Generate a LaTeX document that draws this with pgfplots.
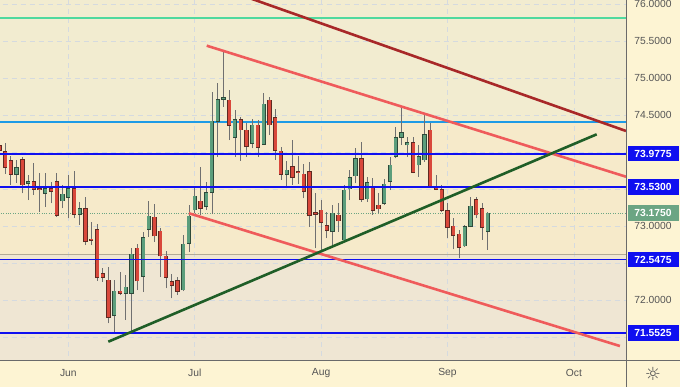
\documentclass[border=0pt]{standalone}
\usepackage{pgfplots}
\usepackage{pgfplotstable}
\pgfplotsset{compat=1.18}
\usepackage{fontspec}
\setmainfont{Liberation Sans}
\newfontfamily\djv{DejaVu Sans}
\definecolor{topc}{HTML}{F2ECD0}
\definecolor{midc}{HTML}{F6EACA}
\definecolor{lowc}{HTML}{EFE6D3}
\definecolor{panelc}{HTML}{FDF4D3}
\definecolor{gridc}{HTML}{D5DADF}
\definecolor{labc}{HTML}{555555}
\definecolor{upfill}{HTML}{5C9E7C}
\definecolor{upedge}{HTML}{2E4A3A}
\definecolor{dnfill}{HTML}{D9483B}
\definecolor{dnedge}{HTML}{5E2A22}
\definecolor{wickc}{HTML}{707070}
\definecolor{lineblue}{HTML}{0F0FF0}
\definecolor{greenbox}{HTML}{6BA583}
\definecolor{darkred}{HTML}{A82828}
\definecolor{salmon}{HTML}{EF5B5B}
\definecolor{tgreen}{HTML}{1F5E27}
\definecolor{cyanl}{HTML}{1E9BE6}
\definecolor{seag}{HTML}{4FD99E}
\definecolor{grayl}{HTML}{B3AA96}
\definecolor{axisc}{HTML}{6A6A6A}
\setlength{\fboxsep}{0pt}
\newcommand{\pl}[2]{\colorbox{#1}{\makebox[51pt]{\rule[-4pt]{0pt}{15.5pt}\textcolor{white}{\bfseries #2}}}}
% candles: index (trading day, 0 = 1 Jun), open, high, low, close
\pgfplotstableread{
i o h l c
-9 73.699 73.892 73.581 73.793
-7 73.572 73.689 73.351 73.599
-4 73.442 73.720 73.261 73.509
-1 73.338 73.554 73.239 73.432
0 73.388 73.689 73.104 73.509
2 73.158 73.328 73.014 73.239
8 71.791 72.270 71.572 72.118
10 72.091 72.338 71.730 72.172
11 72.091 72.707 71.572 72.622
13 72.318 72.919 72.108 72.847
14 72.955 73.342 72.855 73.135
20 72.135 72.878 72.120 72.757
21 72.766 73.284 72.653 73.135
22 73.216 73.531 73.172 73.405
24 73.261 73.599 73.216 73.455
25 73.450 74.815 73.162 74.419
26 74.410 74.928 73.937 74.712
27 74.712 75.355 74.612 74.739
29 74.193 74.568 73.937 74.442
32 74.118 74.442 74.050 74.365
34 74.104 74.793 74.095 74.649
38 73.699 73.882 73.509 73.757
46 72.923 73.284 72.720 73.172
48 72.811 73.554 72.788 73.486
49 73.500 73.757 73.351 73.658
50 73.676 74.050 73.577 73.915
52 73.365 73.666 73.328 73.585
55 73.307 73.631 73.284 73.568
56 73.599 73.937 73.486 73.824
57 73.937 74.342 73.915 74.193
58 74.199 74.591 74.095 74.261
59 74.095 74.207 73.937 74.126
61 73.824 74.095 73.666 73.937
62 73.892 74.500 73.869 74.239
69 72.730 73.020 72.720 72.991
70 72.991 73.396 72.982 73.270
73 72.923 73.193 72.676 73.175
}\up
\pgfplotstableread{
i o h l c
-12 74.085 74.108 73.987 74.018
-11 74.004 74.126 73.703 73.793
-10 73.882 73.946 73.554 73.699
-8 73.901 73.937 73.442 73.554
-6 73.599 73.855 73.419 73.496
-5 73.504 73.720 73.193 73.496
-3 73.504 73.599 73.307 73.469
-2 73.599 73.712 73.122 73.139
1 73.509 73.743 73.104 73.158
3 73.239 73.396 72.743 72.788
4 72.824 73.058 72.743 72.807
5 72.955 73.027 72.257 72.301
6 72.361 72.428 72.247 72.301
7 72.270 72.450 71.685 71.764
9 72.118 72.382 72.068 72.088
12 72.699 72.757 72.135 72.257
15 73.118 73.297 72.788 72.865
16 72.932 72.969 72.315 72.595
17 72.595 72.666 72.158 72.301
18 72.247 72.351 72.023 72.193
19 72.261 72.315 72.068 72.118
23 73.338 73.801 73.149 73.239
28 74.703 74.838 74.162 74.361
30 74.442 74.477 73.882 74.297
31 74.297 74.388 73.937 74.072
33 74.365 74.432 73.937 74.064
35 74.703 74.739 74.230 74.365
36 74.469 74.577 73.892 74.018
37 74.014 74.072 73.622 73.699
39 73.801 74.162 73.554 73.653
40 73.739 73.946 73.568 73.720
41 73.703 73.838 73.374 73.464
42 73.734 73.869 72.991 73.139
43 73.185 73.442 72.699 73.158
44 73.216 73.351 72.676 73.045
45 73.004 73.193 72.834 72.937
47 73.149 73.307 72.923 73.068
51 73.915 74.139 73.328 73.361
53 73.531 73.645 73.149 73.207
54 73.284 73.442 73.172 73.230
60 74.126 74.207 73.712 73.726
63 74.297 74.388 73.531 73.541
64 73.531 73.689 73.486 73.496
65 73.496 73.554 73.193 73.207
66 73.207 73.307 72.834 72.977
67 73.000 73.104 72.685 72.869
68 72.892 72.946 72.564 72.712
71 73.361 73.396 73.104 73.149
72 73.239 73.307 72.811 72.982
}\dn
\pgfplotsset{
  ebar/.style={draw=none, mark=none, error bars/.cd, y dir=plus, y explicit,
    error mark=none, error bar style={solid, #1}},
}
\begin{document}
\begin{tikzpicture}
\useasboundingbox (0,0) rectangle (680pt,387pt);
\fill[panelc] (0,0) rectangle (680pt,387pt);
\begin{axis}[
  at={(0pt,27pt)}, anchor=south west, scale only axis,
  width=626pt, height=360pt,
  xmin=-11.89, xmax=97.06, ymin=71.1892, ymax=76.054,
  axis line style={draw=none},
  axis background/.style={fill=topc},
  xtick={0,22,44,66,88}, xticklabels={Jun,Jul,Aug,Sep,Oct},
  ytick={71.5,72,72.5,73,73.5,74,74.5,75,75.5,76},
  yticklabels={,72.0000,,73.0000,,,74.5000,75.0000,75.5000,76.0000},
  yticklabel pos=right,
  major tick length=0pt, tick style={draw=none},
  /pgf/number format/assume math mode=true,
  xticklabel style={anchor=center, yshift=-13pt, text=labc, font=\fontsize{10.3}{12}\selectfont},
  yticklabel style={anchor=center, xshift=27pt, text=labc, font=\fontsize{10.3}{12}\selectfont},
  extra y ticks={73.9775,73.53,73.175,72.5475,71.5525},
  extra y tick labels={\pl{lineblue}{73.9775},\pl{lineblue}{73.5300},\pl{greenbox}{73.1750},\pl{lineblue}{72.5475},\pl{lineblue}{71.5525}},
  extra y tick style={grid=none},
]
% zones
\addplot[draw=none, fill=midc] coordinates {(-13,72.615) (98,72.615) (98,74.405) (-13,74.405)} -- cycle;
\addplot[draw=none, fill=lowc] coordinates {(-13,71) (98,71) (98,72.615) (-13,72.615)} -- cycle;
% grid
\addplot[gridc, dash pattern=on 5pt off 4pt, line width=0.7pt] coordinates {(0,71) (0,77)};
\addplot[gridc, dash pattern=on 5pt off 4pt, line width=0.7pt] coordinates {(22,71) (22,77)};
\addplot[gridc, dash pattern=on 5pt off 4pt, line width=0.7pt] coordinates {(44,71) (44,77)};
\addplot[gridc, dash pattern=on 5pt off 4pt, line width=0.7pt] coordinates {(66,71) (66,77)};
\addplot[gridc, dash pattern=on 5pt off 4pt, line width=0.7pt] coordinates {(88,71) (88,77)};
\addplot[gridc, dash pattern=on 5pt off 4pt, line width=0.7pt] coordinates {(-13,71.5) (98,71.5)};
\addplot[gridc, dash pattern=on 5pt off 4pt, line width=0.7pt] coordinates {(-13,72) (98,72)};
\addplot[gridc, dash pattern=on 5pt off 4pt, line width=0.7pt] coordinates {(-13,72.5) (98,72.5)};
\addplot[gridc, dash pattern=on 5pt off 4pt, line width=0.7pt] coordinates {(-13,73) (98,73)};
\addplot[gridc, dash pattern=on 5pt off 4pt, line width=0.7pt] coordinates {(-13,73.5) (98,73.5)};
\addplot[gridc, dash pattern=on 5pt off 4pt, line width=0.7pt] coordinates {(-13,74) (98,74)};
\addplot[gridc, dash pattern=on 5pt off 4pt, line width=0.7pt] coordinates {(-13,74.5) (98,74.5)};
\addplot[gridc, dash pattern=on 5pt off 4pt, line width=0.7pt] coordinates {(-13,75) (98,75)};
\addplot[gridc, dash pattern=on 5pt off 4pt, line width=0.7pt] coordinates {(-13,75.5) (98,75.5)};
\addplot[gridc, dash pattern=on 5pt off 4pt, line width=0.7pt] coordinates {(-13,76) (98,76)};
% levels
\addplot[seag, line width=1.2pt] coordinates {(-13,75.811) (98,75.811)};
\addplot[cyanl, line width=1.2pt] coordinates {(-13,74.405) (98,74.405)};
\addplot[grayl, line width=1.7pt] coordinates {(-13,72.615) (98,72.615)};
\addplot[greenbox, line width=0.7pt, dash pattern=on 0.8pt off 1.6pt] coordinates {(-13,73.175) (98,73.175)};
% wicks
\addplot[ebar={draw=wickc, line width=0.8pt}] table[x=i, y=l, y error plus expr={\thisrow{h}-\thisrow{l}}] {\up};
\addplot[ebar={draw=wickc, line width=0.8pt}] table[x=i, y=l, y error plus expr={\thisrow{h}-\thisrow{l}}] {\dn};
% bodies: outline then fill
\addplot[ebar={draw=upedge, line width=4.3pt}] table[x=i, y expr={\thisrow{o}-0.006}, y error plus expr={\thisrow{c}-\thisrow{o}+0.012}] {\up};
\addplot[ebar={draw=upfill, line width=3.0pt}] table[x=i, y expr={\thisrow{o}+0.003}, y error plus expr={max(\thisrow{c}-\thisrow{o}-0.006,0)}] {\up};
\addplot[ebar={draw=dnedge, line width=4.3pt}] table[x=i, y expr={\thisrow{c}-0.006}, y error plus expr={\thisrow{o}-\thisrow{c}+0.012}] {\dn};
\addplot[ebar={draw=dnfill, line width=3.0pt}] table[x=i, y expr={\thisrow{c}+0.003}, y error plus expr={max(\thisrow{o}-\thisrow{c}-0.006,0)}] {\dn};
% blue levels
\addplot[lineblue, line width=1.8pt] coordinates {(-13,73.9775) (98,73.9775)};
\addplot[lineblue, line width=1.8pt] coordinates {(-13,73.53) (98,73.53)};
\addplot[lineblue, line width=1.8pt] coordinates {(-13,72.5475) (98,72.5475)};
\addplot[lineblue, line width=1.8pt] coordinates {(-13,71.5525) (98,71.5525)};
% trend lines
\addplot[darkred, line width=2.6pt] coordinates {(20,76.396) (97.06,74.284)};
\addplot[salmon, line width=2.6pt] coordinates {(24.09,75.4365) (97.06,73.666)};
\addplot[salmon, line width=2.6pt] coordinates {(21.0,73.172) (96.0,71.378)};
\addplot[tgreen, line width=2.6pt] coordinates {(6.96,71.4365) (91.96,74.239)};
\end{axis}
\draw[axisc, line width=0.8pt] (626pt,0pt) -- (626pt,387pt);
\draw[axisc, line width=0.8pt] (0pt,27pt) -- (680pt,27pt);
\node[text=labc, inner sep=0pt] at (653pt,13.5pt) {\djv\fontsize{18}{18}\selectfont ☼};
\end{tikzpicture}
\end{document}
